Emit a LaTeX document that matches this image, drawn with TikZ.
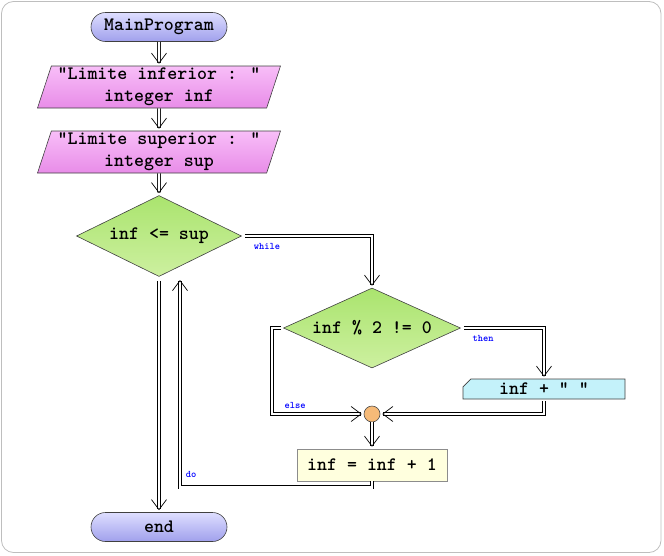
\documentclass[tikz,border=0pt]{standalone}
\usepackage{xcolor}
\usepackage{tikz}
\usetikzlibrary{positioning,shapes.geometric,shapes.misc,arrows.meta,calc}

\definecolor{termtop}{RGB}{222,222,255}
\definecolor{termbot}{RGB}{160,160,236}
\definecolor{iotop}{RGB}{248,190,248}
\definecolor{iobot}{RGB}{232,140,232}
\definecolor{condtop}{RGB}{170,228,110}
\definecolor{condbot}{RGB}{205,240,160}
\definecolor{jointop}{RGB}{246,186,120}
\definecolor{outtop}{RGB}{196,242,250}
\definecolor{incrfill}{RGB}{255,255,222}
\definecolor{framegray}{RGB}{190,190,190}

\begin{document}
\begin{tikzpicture}[x=1pt, y=-1pt, >={Straight Barb[length=10pt,width=15pt]},
  txt/.style={font=\fontsize{19}{22}\selectfont\ttfamily\bfseries, align=center},
  term/.style={txt, rounded rectangle, draw=black!75, line width=0.6pt,
    top color=termtop, middle color=white!92!termtop, bottom color=termbot,
    minimum width=136, minimum height=29, inner sep=0},
  io/.style={txt, trapezium, trapezium left angle=70, trapezium right angle=110,
    trapezium stretches body, draw=black!75, line width=0.6pt,
    top color=iotop, middle color=white!90!iotop, bottom color=iobot,
    minimum width=243, minimum height=42, inner sep=0},
  cond/.style={txt, diamond, draw=black!75, line width=0.6pt,
    top color=condtop, middle color=white!90!condtop, bottom color=condbot,
    inner sep=0},
  outbox/.style={txt, chamfered rectangle, chamfered rectangle corners=north west,
    chamfered rectangle xsep=5pt, draw=black!75, line width=0.6pt,
    top color=outtop, middle color=white!95!outtop, bottom color=outtop,
    minimum width=162, minimum height=20, inner sep=0},
  procbox/.style={txt, rectangle, draw=black!45, line width=0.6pt, fill=incrfill,
    minimum width=150, minimum height=32, inner sep=0},
  joint/.style={circle, draw=black!70, line width=0.6pt,
    top color=jointop, middle color=white!90!jointop, bottom color=jointop,
    minimum size=16, inner sep=0},
  flow/.style={double, double distance=2.4pt, line width=0.7pt, ->, shorten >=2pt},
  tag/.style={text=blue, font=\fontsize{10}{11}\selectfont\ttfamily\bfseries, inner sep=0}
]

% Frame
\useasboundingbox (0,0) rectangle (664,555);
\draw[framegray, line width=0.8pt, rounded corners=12] (1.5,1.5) rectangle (661,552.5);

% Nodes
\node[term] (start) at (159,27) {MainProgram};
\node[io] (readinf) at (159,87) {"Limite inferior : "\\integer inf};
\node[io] (readsup) at (159,152) {"Limite superior : "\\integer sup};
\node[cond, aspect=2.04, minimum width=165, minimum height=81] (loop) at (159,236) {inf <= sup};
\node[cond, aspect=2.2, minimum width=177, minimum height=80] (parity) at (372,328) {inf \% 2 != 0};
\node[outbox] (write) at (544,389) {inf + " "};
\node[joint] (join) at (372,414) {};
\node[procbox] (incr) at (372,465) {inf = inf + 1};
\node[term] (finish) at (159,527) {end};
\coordinate (back) at (180,280);

% Connectors
\draw[flow] (start) -- (readinf);
\draw[flow] (readinf) -- (readsup);
\draw[flow] (readsup) -- (loop);
\draw[flow, shorten <=4pt] (loop.south) -- (finish.north);
\draw[flow, shorten <=3pt] (loop.east) -| (parity.north);
\draw[flow, shorten <=3pt] (parity.east) -| (write.north);
\draw[flow, shorten <=2pt] (write.south) |- (join.east);
\draw[flow, shorten <=2pt] (parity.west) -- ++(-11,0) |- (join.west);
\draw[flow] (join) -- (incr);
\draw[flow, shorten >=0pt] (incr.south) -- ++(0,6) -| (back);

% Branch labels
\node[tag] (lwhile) at (267,246) {while};
\node[tag] (lthen) at (483,338) {then};
\node[tag] (lelse) at (295,405) {else};
\node[tag] (ldo) at (191,474) {do};

\end{tikzpicture}
\end{document}
